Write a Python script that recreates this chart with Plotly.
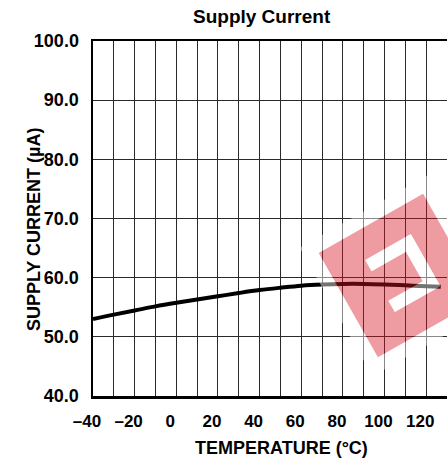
import plotly.graph_objects as go

# ---- data ----
temperature = [-40, -30, -20, -10, 0, 10, 20, 30, 40, 50, 60, 70, 80, 90, 100, 110, 120, 127]
supply_current = [53.0, 53.75, 54.45, 55.15, 55.75, 56.3, 56.85, 57.4, 57.9, 58.3, 58.65,
                  58.85, 58.95, 58.95, 58.85, 58.7, 58.55, 58.45]

x_tickvals = [-40, -30, -20, -10, 0, 10, 20, 30, 40, 50, 60, 70, 80, 90, 100, 110, 120, 130]
x_ticktext = ["\u201340", "", "\u201320", "", "0", "", "20", "", "40", "", "60", "", "80", "", "100", "", "120", ""]
y_tickvals = [40, 50, 60, 70, 80, 90, 100]
y_ticktext = ["40.0", "50.0", "60.0", "70.0", "80.0", "90.0", "100.0"]

title_text = "Supply Current"
x_title = "TEMPERATURE (\u00b0C)"
y_title = "SUPPLY CURRENT (\u00b5A)"

# ---- layout geometry (pixels) ----
W, H = 448, 461
ML, MR, MT, MB = 93, 1, 41, 65
PW, PH = W - ML - MR, H - MT - MB


def to_paper(px, py):
    return ((px - ML) / PW, (H - MB - py) / PH)


# watermark geometry (decorative stamp)
cx, cy = 400.5, 275.5
e1 = (0.8696, -0.4933)
e2 = (0.4933, 0.8696)


def loc(u, v):
    return (cx + u * e1[0] + v * e2[0], cy + u * e1[1] + v * e2[1])


def poly_path(pts):
    s = ""
    for i, (u, v) in enumerate(pts):
        px, py = loc(u, v)
        x, y = to_paper(px, py)
        s += ("M" if i == 0 else "L") + f"{x:.5f},{y:.5f} "
    return s + "Z "


def square(h):
    return [(-h, -h), (h, -h), (h, h), (-h, h)]


bracket = [(-23, -31), (29.5, -31), (29.5, 29), (-23, 29), (-23, 16), (16.5, 16), (16.5, -18), (-23, -18)]

shapes = [
    dict(type="path", xref="paper", yref="paper", layer="above",
         path=poly_path(square(74)) + poly_path(square(60)), fillrule="evenodd",
         fillcolor="rgba(255,255,255,0.45)", line=dict(width=0)),
    dict(type="path", xref="paper", yref="paper", layer="above",
         path=poly_path(square(60)) + poly_path(bracket), fillrule="evenodd",
         fillcolor="rgba(215,20,30,0.42)", line=dict(width=0)),
    dict(type="path", xref="paper", yref="paper", layer="above",
         path=poly_path(bracket), fillcolor="rgba(255,255,255,0.45)", line=dict(width=0)),
]

FONT = "Liberation Sans, Arial, Helvetica, sans-serif"

fig = go.Figure()
fig.add_trace(go.Scatter(x=temperature, y=supply_current, mode="lines",
                         line=dict(color="black", width=4, shape="spline"),
                         hoverinfo="skip", showlegend=False))

tx, ty = to_paper(261.7, 16)
xx, xy = to_paper(281.7, 448)
yx, yy = to_paper(34, 230)

annotations = [
    dict(text=title_text, x=tx, y=ty, xref="paper", yref="paper", showarrow=False,
         xanchor="center", yanchor="middle", font=dict(family=FONT, size=19, color="black", weight="bold")),
    dict(text=x_title, x=xx, y=xy, xref="paper", yref="paper", showarrow=False,
         xanchor="center", yanchor="middle", font=dict(family=FONT, size=18, color="black", weight="bold")),
    dict(text=y_title, x=yx, y=yy, xref="paper", yref="paper", showarrow=False, textangle=-90,
         xanchor="center", yanchor="middle", font=dict(family=FONT, size=18, color="black", weight="bold")),
]

fig.update_layout(
    width=W, height=H,
    margin=dict(l=ML, r=MR, t=MT, b=MB, pad=0),
    paper_bgcolor="white", plot_bgcolor="white",
    showlegend=False,
    shapes=shapes,
    annotations=annotations,
    xaxis=dict(range=[-40, 130], tickvals=x_tickvals, ticktext=x_ticktext,
               showgrid=True, gridcolor="#2a2a2a", gridwidth=1, zeroline=False,
               showline=True, linecolor="black", linewidth=2.5, mirror=True,
               ticks="outside", ticklen=8, tickcolor="rgba(0,0,0,0)",
               ticklabelshift=-6,
               tickfont=dict(family=FONT, size=17, color="black", weight="bold")),
    yaxis=dict(range=[40, 100], tickvals=y_tickvals, ticktext=y_ticktext,
               showgrid=True, gridcolor="#2a2a2a", gridwidth=1, zeroline=False,
               showline=True, linecolor="black", linewidth=2.5, mirror=False,
               ticks="outside", ticklen=8, tickcolor="rgba(0,0,0,0)",
               tickfont=dict(family=FONT, size=18, color="black", weight="bold")),
)

fig.write_html("out.html",
               config={"displayModeBar": False, "staticPlot": True},
               post_script="document.body.style.margin='0';document.body.style.overflow='hidden';")
